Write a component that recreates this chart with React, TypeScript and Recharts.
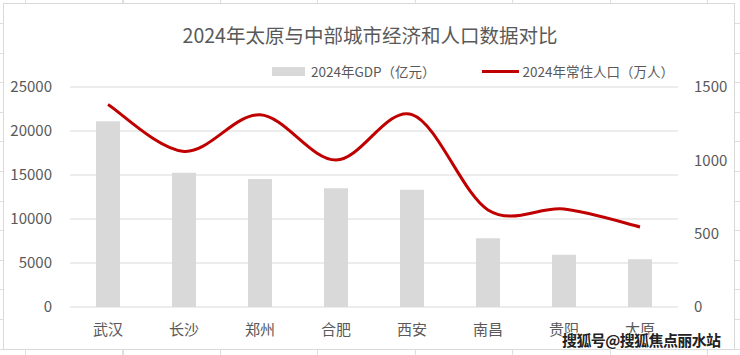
import React from 'react';
import { ComposedChart, Bar, Line, XAxis, YAxis, CartesianGrid } from 'recharts';

// city names, GDP (亿元) and resident population (万人)
const cities = ['武汉', '长沙', '郑州', '合肥', '西安', '南昌', '贵阳', '太原'];
const gdp = [21106, 15269, 14532, 13508, 13318, 7800, 5938, 5418];
const population = [1381, 1061, 1310, 1002, 1312, 662, 668, 546];
const gdpTicks = [0, 5000, 10000, 15000, 20000, 25000];
const popTicks = [0, 500, 1000, 1500];

const FONT = '"Noto Sans CJK SC", "Noto Sans", sans-serif';
const TEXT = '#595959';

const chartData = cities.map((name, i) => ({
  name,
  gdp: gdp[i],
  pop: population[i],
}));

// Excel-like smoothed line (cardinal / catmull-rom style bezier)
const excelSmooth = (context: any) => {
  let pts: number[][] = [];
  return {
    areaStart() {},
    areaEnd() {},
    lineStart() {
      pts = [];
    },
    point(x: number, y: number) {
      pts.push([+x, +y]);
    },
    lineEnd() {
      if (!pts.length) return;
      context.moveTo(pts[0][0], pts[0][1]);
      const t = 1 / 6;
      for (let i = 0; i < pts.length - 1; i++) {
        const p0 = pts[i - 1] || pts[i];
        const p1 = pts[i];
        const p2 = pts[i + 1];
        const p3 = pts[i + 2] || p2;
        context.bezierCurveTo(
          p1[0] + (p2[0] - p0[0]) * t,
          p1[1] + (p2[1] - p0[1]) * t,
          p2[0] - (p3[0] - p1[0]) * t,
          p2[1] - (p3[1] - p1[1]) * t,
          p2[0],
          p2[1]
        );
      }
    },
  };
};

const App = () => {
  return (
    <div
      style={{
        position: 'fixed',
        left: 0,
        top: 0,
        width: 740,
        height: 355,
        overflow: 'hidden',
        background: '#fff',
        backgroundImage:
          'repeating-linear-gradient(90deg, transparent 0px, transparent 25px, #dedede 25px, #dedede 26px, transparent 26px, transparent 97.5px), repeating-linear-gradient(180deg, transparent 0px, transparent 23px, #dedede 23px, #dedede 24px, transparent 24px, transparent 29.6px)',
      }}
    >
      <div
        style={{
          position: 'absolute',
          left: 3,
          top: 3,
          width: 730,
          height: 345,
          background: '#fff',
          border: '1px solid #d9d9d9',
        }}
      />
      <div
        style={{
          position: 'absolute',
          left: 0,
          top: 20,
          width: 740,
          textAlign: 'center',
          fontFamily: FONT,
          fontSize: 19.5,
          color: TEXT,
        }}
      >
        2024年太原与中部城市经济和人口数据对比
      </div>
      <div
        style={{
          position: 'absolute',
          left: 272,
          top: 61,
          display: 'flex',
          alignItems: 'center',
          fontFamily: FONT,
          fontSize: 13.5,
          color: TEXT,
          whiteSpace: 'nowrap',
        }}
      >
        <span style={{ display: 'inline-block', width: 33, height: 9, background: '#d9d9d9', marginRight: 6 }} />
        <span>2024年GDP（亿元）</span>
        <span style={{ display: 'inline-block', width: 37, height: 3, background: '#c00000', marginLeft: 46, marginRight: 4 }} />
        <span>2024年常住人口（万人）</span>
      </div>
      <div style={{ position: 'absolute', left: 0, top: 0 }}>
        <ComposedChart
          width={740}
          height={355}
          data={chartData}
          margin={{ top: 87, right: 7, bottom: 18, left: 10 }}
        >
          <CartesianGrid vertical={false} stroke="#d9d9d9" strokeWidth={1.2} yAxisId="left" />
          <XAxis
            dataKey="name"
            axisLine={false}
            tickLine={false}
            tickSize={0}
            tickMargin={17}
            height={30}
            tick={{ fill: TEXT, fontSize: 15, fontFamily: FONT }}
          />
          <YAxis
            yAxisId="left"
            domain={[0, 25000]}
            ticks={gdpTicks}
            axisLine={false}
            tickLine={false}
            tickSize={0}
            tickMargin={18}
            width={60}
            tick={{ fill: TEXT, fontSize: 15, fontFamily: FONT }}
          />
          <YAxis
            yAxisId="right"
            orientation="right"
            domain={[0, 1500]}
            ticks={popTicks}
            axisLine={false}
            tickLine={false}
            tickSize={0}
            tickMargin={16}
            width={55}
            tick={{ fill: TEXT, fontSize: 15, fontFamily: FONT }}
          />
          <Bar yAxisId="left" dataKey="gdp" name="2024年GDP（亿元）" fill="#d9d9d9" barSize={24} isAnimationActive={false} />
          <Line
            yAxisId="right"
            dataKey="pop"
            name="2024年常住人口（万人）"
            type={excelSmooth as any}
            stroke="#c00000"
            strokeWidth={3}
            dot={false}
            activeDot={false}
            isAnimationActive={false}
          />
        </ComposedChart>
      </div>
      <div
        style={{
          position: 'absolute',
          left: 562,
          top: 329,
          fontFamily: FONT,
          fontSize: 15,
          fontWeight: 700,
          color: '#222',
          textShadow: '0 0 2px #fff, 0 0 2px #fff, 1px 1px 1px #fff, -1px -1px 1px #fff',
          letterSpacing: -0.6,
        }}
      >
        搜狐号@搜狐焦点丽水站
      </div>
    </div>
  );
};

export default App;
